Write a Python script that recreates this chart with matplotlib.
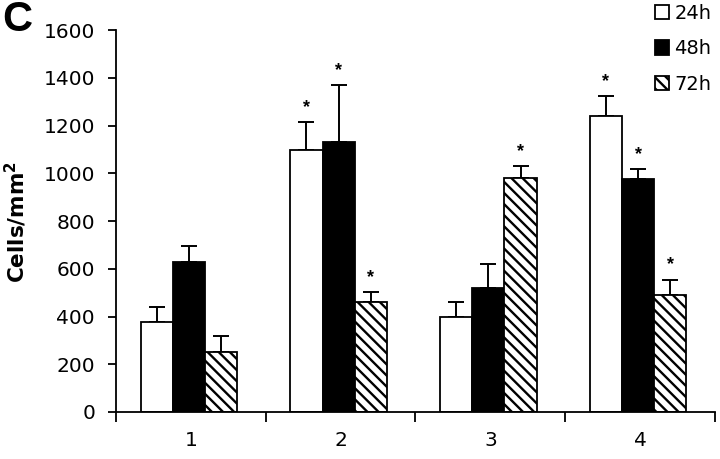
import matplotlib
matplotlib.use("Agg")
import matplotlib.pyplot as plt
import numpy as np

plt.rcParams['font.family'] = ['DejaVu Sans']
plt.rcParams['hatch.linewidth'] = 1.7

categories = ['1', '2', '3', '4']
series = ['24h', '48h', '72h']
means_24h = [378, 1097, 399, 1239]
means_48h = [630, 1130, 521, 975]
means_72h = [252, 462, 979, 492]
err_24h = [63, 117, 63, 84]
err_48h = [67, 240, 97, 42]
err_72h = [67, 42, 50, 63]
sig_24h = [False, True, False, True]
sig_48h = [False, True, False, True]
sig_72h = [False, True, True, True]

fig = plt.figure(figsize=(7.2, 4.59), dpi=100)
ax = fig.add_axes([0.161, 0.1024, 0.832, 0.832])

x = np.arange(len(categories))
w = 0.215
offsets = [-w, 0, w]
styles = [dict(facecolor='white', edgecolor='black', hatch=None),
          dict(facecolor='black', edgecolor='black', hatch=None),
          dict(facecolor='white', edgecolor='black', hatch='\\\\\\')]
all_means = [means_24h, means_48h, means_72h]
all_errs = [err_24h, err_48h, err_72h]
all_sig = [sig_24h, sig_48h, sig_72h]

handles = []
for i in range(3):
    pos = x + offsets[i] - 0.013
    b = ax.bar(pos, all_means[i], width=w, linewidth=1.3, label=series[i], zorder=2, **styles[i])
    handles.append(b)
    ax.errorbar(pos, all_means[i], yerr=[np.zeros(4), all_errs[i]], fmt='none',
                ecolor='black', elinewidth=1.4, capsize=6, capthick=1.4, zorder=1)
    for j in range(4):
        if all_sig[i][j]:
            ax.text(pos[j], all_means[i][j] + all_errs[i][j] + 25, '*', ha='center', va='bottom',
                    fontsize=13, fontweight='bold', family='Liberation Sans')

ax.set_xlim(-0.5, 3.5)
ax.set_ylim(0, 1600)
ax.set_yticks(np.arange(0, 1601, 200))
ax.tick_params(axis='y', labelsize=14.5, length=6, width=1.3, direction='out', pad=9)
ax.set_xticks(x)
ax.set_xticklabels(categories, fontsize=14.5)
ax.tick_params(axis='x', length=0, pad=14)
ax.set_xticks(np.arange(-0.5, 4.0, 1.0), minor=True)
ax.tick_params(axis='x', which='minor', length=7, width=1.3, direction='out')
for s in ['top', 'right']:
    ax.spines[s].set_visible(False)
for s in ['left', 'bottom']:
    ax.spines[s].set_linewidth(1.3)

fig.text(16 / 720, 1 - 222 / 459, 'Cells/mm$^\\mathbf{2}$', fontsize=15.5, fontweight='bold',
         rotation=90, ha='center', va='center')
fig.text(0.003, 1 - 20 / 459, 'C', fontsize=30, fontweight='bold', va='center',
         family='Liberation Sans')

leg = fig.legend(handles=handles, labels=series, loc='upper right', bbox_to_anchor=(1.012, 1.03),
                 frameon=False, fontsize=14, handlelength=0.75, handleheight=0.75,
                 handletextpad=0.25, labelspacing=0.85)

fig.savefig('out.png', dpi=100)
